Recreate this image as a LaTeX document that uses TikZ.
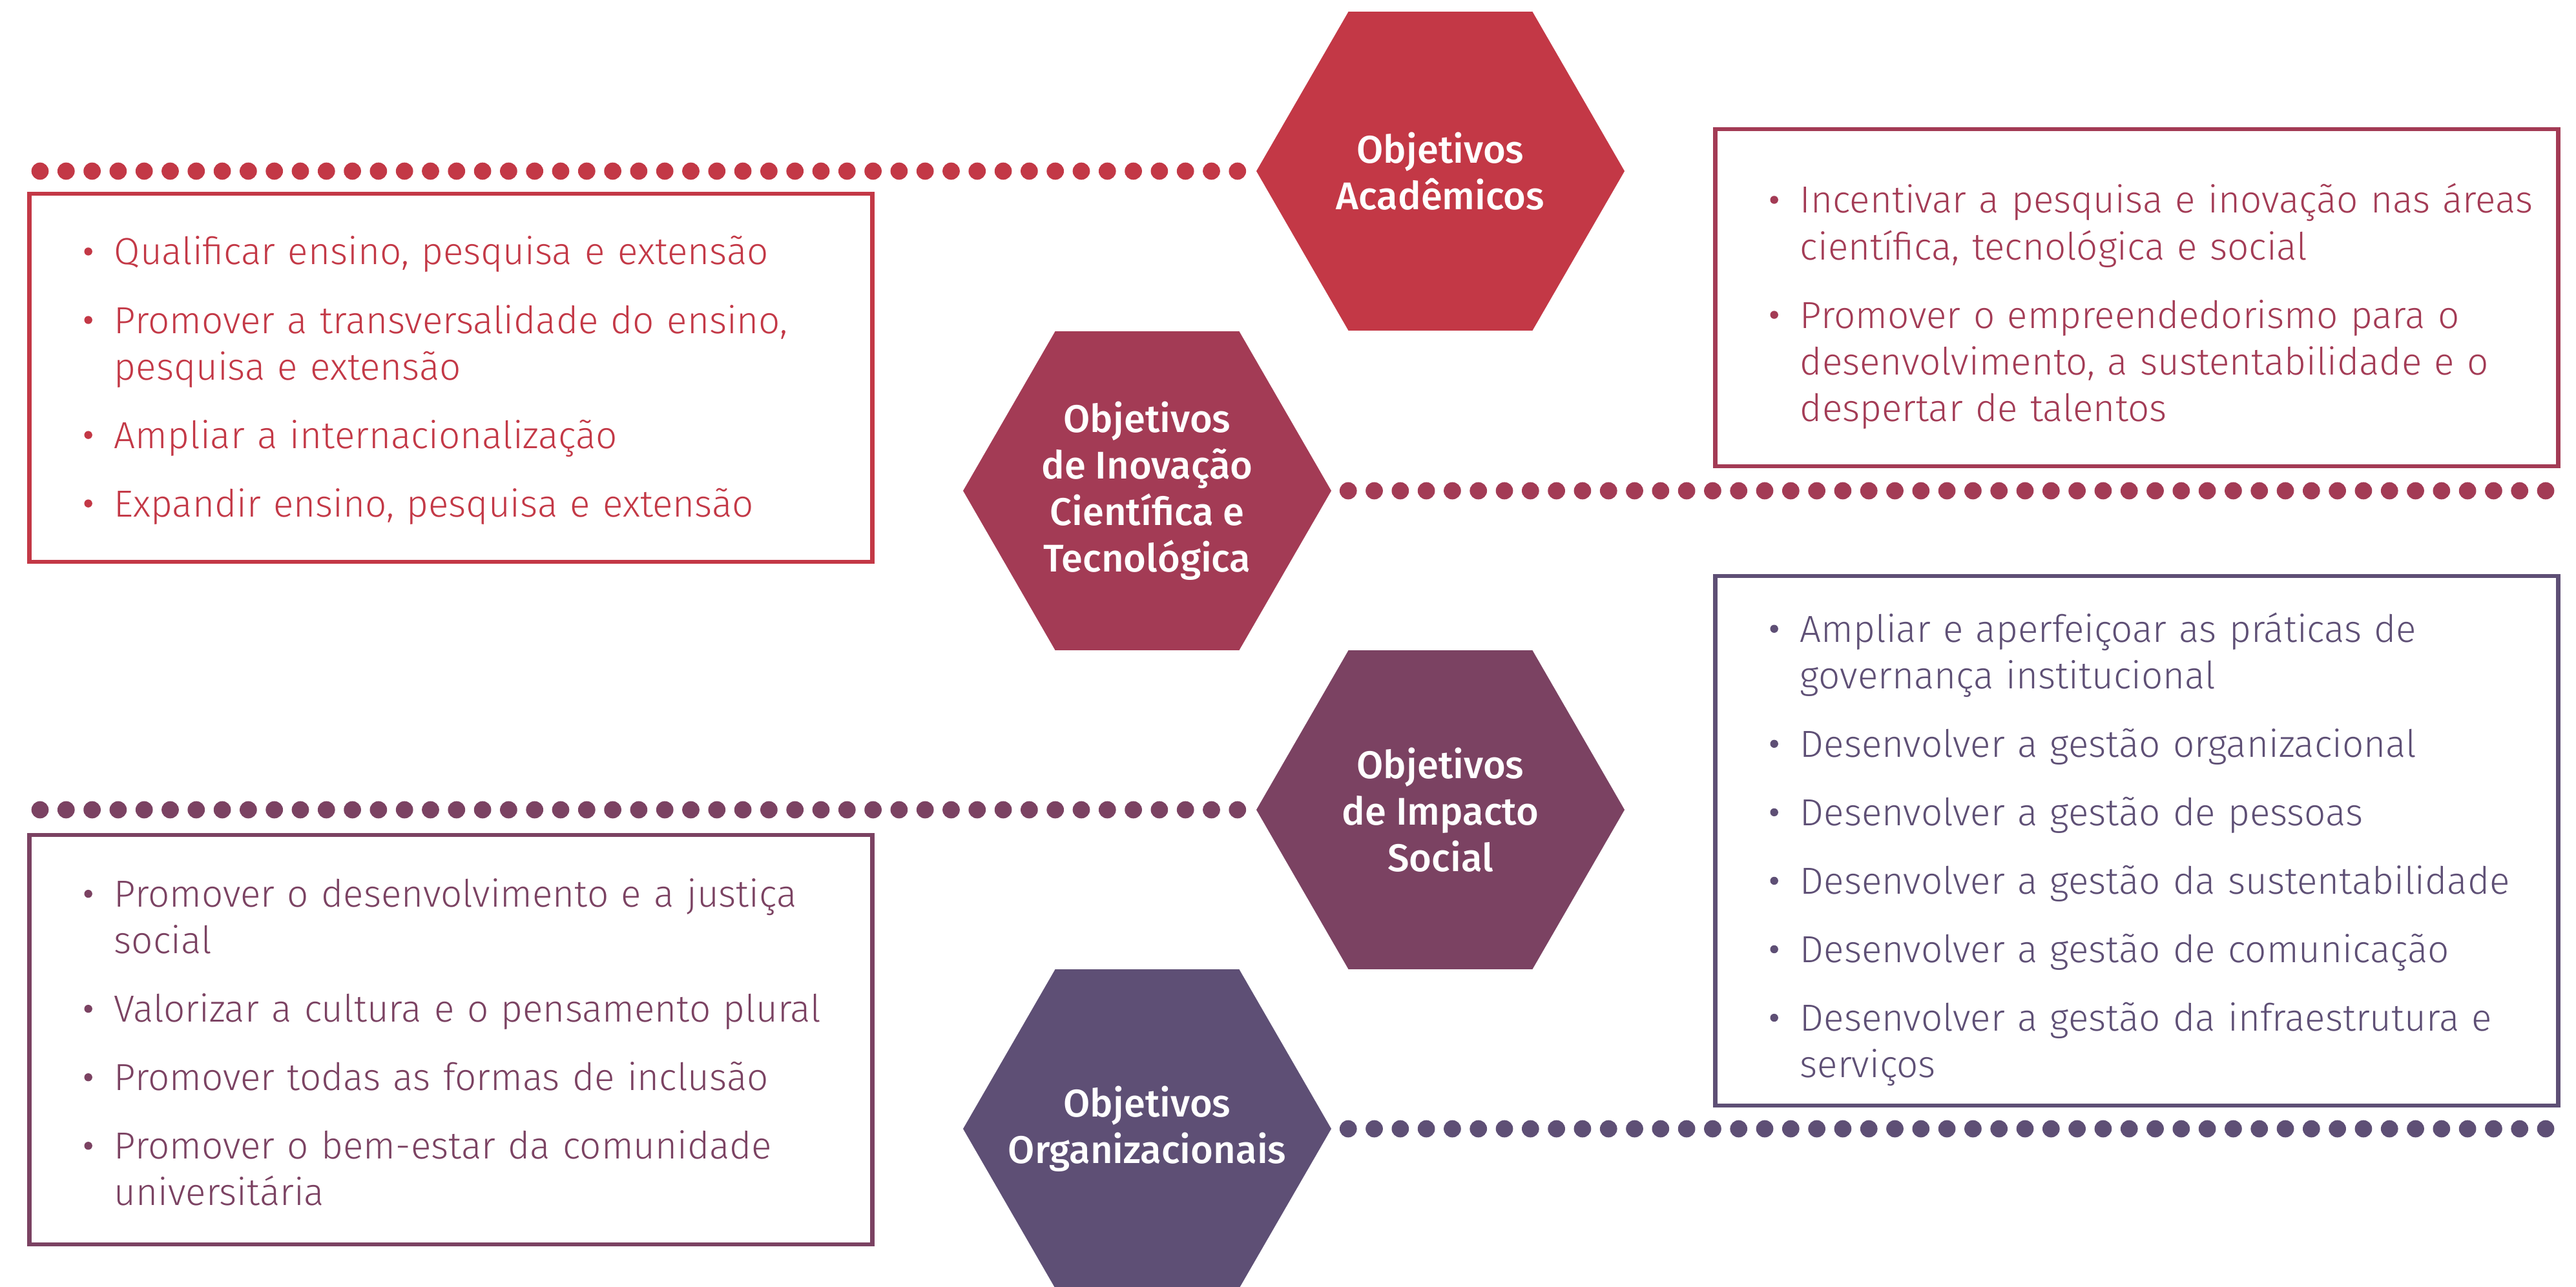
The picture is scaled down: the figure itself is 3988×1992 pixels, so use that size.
\documentclass[tikz,border=0pt]{standalone}
\usepackage{fontspec}
\usepackage{enumitem}
\setmainfont{Fira Sans Light}
\newfontfamily\hexfont{Fira Sans Medium}
\usetikzlibrary{shapes.geometric}
\definecolor{ObjRed}{HTML}{C33846}
\definecolor{ObjRose}{HTML}{A33B55}
\definecolor{ObjPlum}{HTML}{7B4262}
\definecolor{ObjViolet}{HTML}{5E4F75}
\newcommand{\goalbullet}{\tikz[x=1mm,y=1mm,baseline=0pt]\fill[fill=.] (0.62,2.05) circle (0.62);}
\setlist[itemize]{label=\goalbullet,leftmargin=4.6mm,labelsep=3.4mm,
  topsep=0pt,partopsep=0pt,parsep=0pt,itemsep=3.4mm}

\begin{document}
\begin{tikzpicture}[x=0.1mm,y=-0.1mm,
  hexcell/.style={regular polygon,regular polygon sides=6,minimum size=57mm,
    inner sep=0pt,fill=#1},
  hextext/.style={text=white,align=center,inner sep=0pt,
    font=\hexfont\fontsize{17}{20.5}\selectfont},
  goalbox/.style={draw=#1,line width=0.67mm,minimum width=130.5mm,inner sep=0pt},
  goallist/.style={text=#1,text width=121mm,inner sep=0pt,anchor=west,
    font=\fontsize{16.6}{20.5}\selectfont},
  dotrow/.style={#1,line width=2.67mm,line cap=round,dash pattern=on 0pt off 4.03mm}]
  \useasboundingbox (0,0) rectangle (3988,1992);

  \node[hexcell=ObjRed] (hexA) at (2230,265) {};
  \node[hexcell=ObjRose] (hexI) at (1776,760) {};
  \node[hexcell=ObjPlum] (hexS) at (2230,1254) {};
  \node[hexcell=ObjViolet] (hexO) at (1776,1748) {};
  \node[hextext] (tagA) at (hexA) {Objetivos\\Acadêmicos};
  \node[hextext] (tagI) at (hexI) {Objetivos\\de Inovação\\Científica e\\Tecnológica};
  \node[hextext] (tagS) at (hexS) {Objetivos\\de Impacto\\Social};
  \node[hextext] (tagO) at (hexO) {Objetivos\\Organizacionais};

  \coordinate (rowA) at (62,265);
  \coordinate (rowI) at (3941,760);
  \coordinate (rowS) at (62,1254);
  \coordinate (rowO) at (3941,1748);
  \draw[dotrow=ObjRed] (rowA) -- (hexA.west);
  \draw[dotrow=ObjRose] (rowI) -- (hexI.east);
  \draw[dotrow=ObjPlum] (rowS) -- (hexS.west);
  \draw[dotrow=ObjViolet] (rowO) -- (hexO.east);

  \node[goalbox=ObjRed,minimum height=57mm] (boxA) at (698,585) {};
  \node[goallist=ObjRed] (listA) at ([xshift=8.8mm,yshift=1mm]boxA.west) {%
    \begin{itemize}
      \item Qualificar ensino, pesquisa e extensão
      \item Promover a transversalidade do ensino,\newline pesquisa e extensão
      \item Ampliar a internacionalização
      \item Expandir ensino, pesquisa e extensão
    \end{itemize}};

  \node[goalbox=ObjRose,minimum height=52.2mm] (boxI) at (3308,461) {};
  \node[goallist=ObjRose] (listI) at ([xshift=8.8mm]boxI.west) {%
    \begin{itemize}
      \item Incentivar a pesquisa e inovação nas áreas\newline científica, tecnológica e social
      \item Promover o empreendedorismo para o\newline desenvolvimento, a sustentabilidade e o\newline despertar de talentos
    \end{itemize}};

  \node[goalbox=ObjViolet,minimum height=82mm] (boxO) at (3308,1302) {};
  \node[goallist=ObjViolet] (listO) at ([xshift=8.8mm]boxO.west) {%
    \begin{itemize}
      \item Ampliar e aperfeiçoar as práticas de\newline governança institucional
      \item Desenvolver a gestão organizacional
      \item Desenvolver a gestão de pessoas
      \item Desenvolver a gestão da sustentabilidade
      \item Desenvolver a gestão de comunicação
      \item Desenvolver a gestão da infraestrutura e\newline serviços
    \end{itemize}};

  \node[goalbox=ObjPlum,minimum height=63.4mm] (boxS) at (698,1610) {};
  \node[goallist=ObjPlum] (listS) at ([xshift=8.8mm,yshift=1mm]boxS.west) {%
    \begin{itemize}
      \item Promover o desenvolvimento e a justiça\newline social
      \item Valorizar a cultura e o pensamento plural
      \item Promover todas as formas de inclusão
      \item Promover o bem-estar da comunidade\newline universitária
    \end{itemize}};
\end{tikzpicture}
\end{document}
